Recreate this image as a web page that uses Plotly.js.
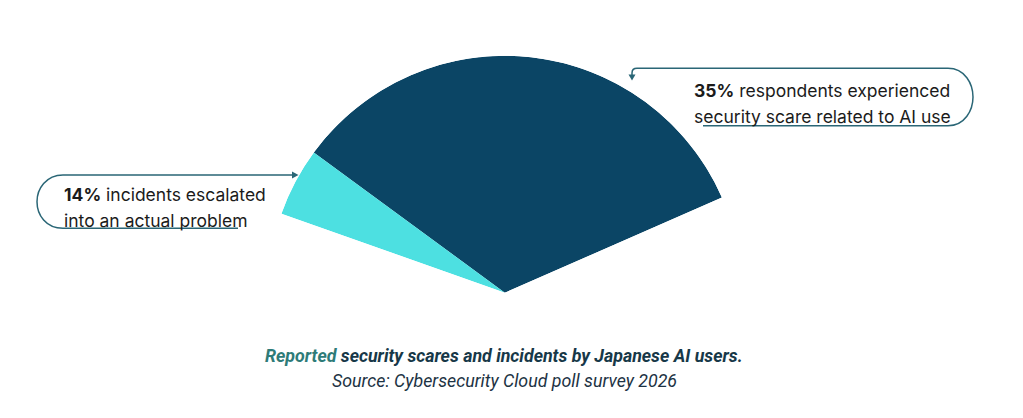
<!DOCTYPE html>
<html>
<head>
<meta charset="utf-8">
<script src="https://cdn.plot.ly/plotly-3.0.1.min.js"></script>
<style>html,body{margin:0;padding:0;background:#fff;}#chart{width:1023px;height:418px;}</style>
</head>
<body>
<div id="chart"></div>
<script>
// ---- data ----
const labels = ["respondents experienced security scare related to AI use", "incidents escalated into an actual problem"];
const shares = [35, 14];            // percent
const sliceColors = ["#0b4565", "#4de0e1"];
const titleLead = "Reported";
const titleRest = " security scares and incidents by Japanese AI users.";
const sourceText = "Source: Cybersecurity Cloud poll survey 2026";

// ---- geometry helpers (styling) ----
const W = 1023, H = 418;
const startAngle = 23.67;          // where the fan begins
const degPerPct = 3.43;            // angular scale
const darkWidth = shares[0] * degPerPct;
const cyanWidth = darkWidth * shares[1] / 100;   // 14% of the 35% group
const widths = [darkWidth, cyanWidth];
const thetas = [startAngle + darkWidth / 2, startAngle + darkWidth + cyanWidth / 2];
const sectorEnd = startAngle + darkWidth + cyanWidth;

const px = (x) => x / W;
const py = (y) => 1 - y / H;
function path(cmds) {
  return cmds.map(c => c[0] + " " + c.slice(1).map((v, i) => (i % 2 === 0 ? px(v) : py(v))).join(" ")).join(" ");
}

const lineCol = "#2a6676";
const shapes = [
  // 35% callout
  {type: "path", xref: "paper", yref: "paper", line: {color: lineCol, width: 1.5},
   path: path([["M", 632, 76], ["L", 632, 73], ["C", 632, 70, 634, 68.3, 637, 68.3], ["L", 948, 68.3],
               ["C", 965, 68.3, 973, 84, 973, 97], ["C", 973, 110, 965, 125.7, 948, 125.7], ["L", 703, 125.7]])},
  {type: "path", xref: "paper", yref: "paper", line: {width: 0}, fillcolor: lineCol,
   path: path([["M", 628.5, 74.5], ["L", 635.5, 74.5], ["L", 632, 80.5]]) + " Z"},
  // 14% callout
  {type: "path", xref: "paper", yref: "paper", line: {color: lineCol, width: 1.5},
   path: path([["M", 293, 175], ["L", 63, 175], ["C", 46, 175, 37, 189, 37, 201.7],
               ["C", 37, 215, 46, 228.3, 63, 228.3], ["L", 238, 228.3]])},
  {type: "path", xref: "paper", yref: "paper", line: {width: 0}, fillcolor: lineCol,
   path: path([["M", 292, 171.5], ["L", 292, 178.5], ["L", 298.5, 175]]) + " Z"}
];

const textCol = "#1b1b1b";
const annFont = {family: "Inter, 'Noto Sans', sans-serif", size: 17.5, color: textCol};
const annotations = [
  {x: px(692), y: py(90), text: "<b>" + shares[0] + "%</b> " + "respondents experienced", xanchor: "left", yanchor: "middle"},
  {x: px(692), y: py(116.5), text: "security scare related to AI use", xanchor: "left", yanchor: "middle"},
  {x: px(62), y: py(195), text: "<b>" + shares[1] + "%</b> " + "incidents escalated", xanchor: "left", yanchor: "middle"},
  {x: px(62), y: py(220), text: "into an actual problem", xanchor: "left", yanchor: "middle"},
].map(a => Object.assign({xref: "paper", yref: "paper", showarrow: false, font: annFont}, a));

annotations.push({xref: "paper", yref: "paper", x: 504 / W, y: py(355), xanchor: "center", yanchor: "middle", showarrow: false,
  text: "<b><i><span style='color:#2e7b78'>" + titleLead + "</span>" + titleRest + "</i></b>",
  font: {family: "Roboto, sans-serif", size: 17.8, color: "#173848"}});
annotations.push({xref: "paper", yref: "paper", x: 504 / W, y: py(380), xanchor: "center", yanchor: "middle", showarrow: false,
  text: "<i>" + sourceText + "</i>",
  font: {family: "Roboto, sans-serif", size: 17.8, color: "#1d3344"}});

const data = [{
  type: "barpolar",
  r: shares.map(() => 1),
  theta: thetas,
  width: widths,
  text: labels,
  marker: {color: sliceColors, line: {width: 0}},
  hoverinfo: "text",
  showlegend: false
}];

const layout = {
  width: W, height: H,
  margin: {l: 0, r: 0, t: 0, b: 0},
  paper_bgcolor: "#fff",
  showlegend: false,
  polar: {
    domain: {x: [281.2 / W, 722.1 / W], y: [(H - 292.7) / H, (H - 55.7) / H]},
    sector: [startAngle, sectorEnd],
    bgcolor: "rgba(0,0,0,0)",
    radialaxis: {range: [0, 1], visible: false, showgrid: false, showline: false, showticklabels: false, ticks: ""},
    angularaxis: {visible: false, showgrid: false, showline: false, showticklabels: false, ticks: "", rotation: 0, direction: "counterclockwise"}
  },
  shapes: shapes,
  annotations: annotations
};

Plotly.newPlot("chart", data, layout, {displayModeBar: false, staticPlot: true});
</script>
</body>
</html>
